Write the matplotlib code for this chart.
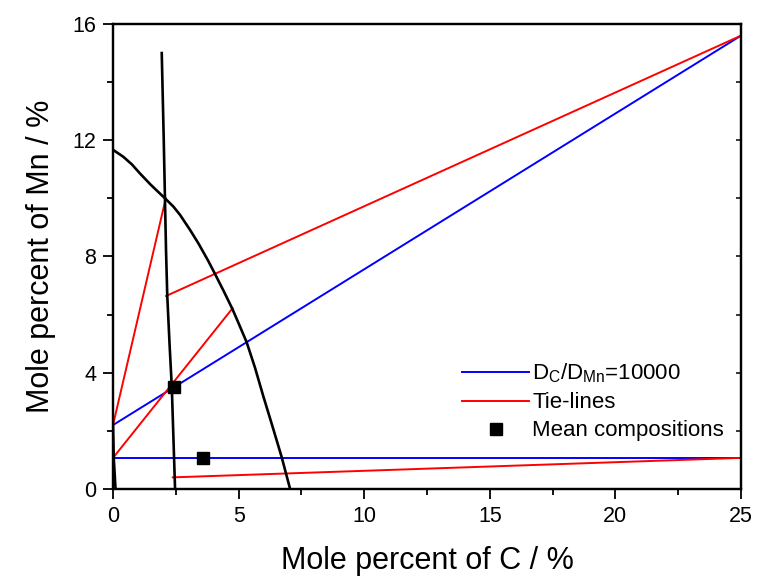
import matplotlib
matplotlib.use("Agg")
import matplotlib.pyplot as plt
from matplotlib.ticker import MultipleLocator

plt.rcParams['font.family'] = ['Liberation Sans', 'DejaVu Sans']
plt.rcParams['mathtext.fontset'] = 'custom'
plt.rcParams['mathtext.rm'] = 'Liberation Sans'

# Phase boundary (gamma / cementite-side curve)
boundary_x = [0.0, 0.41, 0.75, 1.07, 1.5, 2.07, 2.4, 2.67, 3.07, 3.4, 3.79, 4.06, 4.4,
              4.75, 5.0, 5.32, 5.65, 5.98, 6.35, 6.71, 7.05]
boundary_y = [11.67, 11.43, 11.17, 10.86, 10.47, 10.0, 9.72, 9.43, 8.91, 8.45, 7.85, 7.40, 6.82,
              6.20, 5.70, 5.05, 4.18, 3.20, 2.15, 1.11, 0.0]

# Near-vertical boundary
vert_x = [1.94, 2.02, 2.11, 2.16, 2.25, 2.34, 2.47]
vert_y = [15.0, 12.0, 8.22, 6.64, 5.0, 3.51, 0.0]

# Boundary hugging the Mn axis
axis_x = [0.0, 0.03, 0.1]
axis_y = [2.2, 1.07, 0.0]

# Diffusion paths with D_C/D_Mn = 10000
blue1_x = [0.0, 25.0]
blue1_y = [2.2, 15.6]
blue2_x = [0.0, 25.0]
blue2_y = [1.07, 1.07]

# Tie-lines (start, end)
tie_lines = [
    ([0.0, 2.1], [2.2, 10.0]),
    ([0.0, 4.76], [1.07, 6.22]),
    ([2.11, 25.0], [6.64, 15.6]),
    ([2.38, 25.0], [0.40, 1.07]),
]

# Mean compositions
mean_x = [2.44, 3.6]
mean_y = [3.5, 1.06]

fig = plt.figure(figsize=(7.59, 5.78), dpi=100)
ax = fig.add_axes([0.1489, 0.154, 0.8274, 0.8045])

ax.plot(boundary_x, boundary_y, color='black', lw=1.9, zorder=3, solid_joinstyle='round')
ax.plot(vert_x, vert_y, color='black', lw=1.9, zorder=3)
ax.plot(axis_x, axis_y, color='black', lw=1.9, zorder=3)

ax.plot(blue1_x, blue1_y, color='blue', lw=1.4, label=r'D$_\mathregular{C}$/D$_\mathregular{Mn}$=10000', zorder=2)
ax.plot(blue2_x, blue2_y, color='blue', lw=1.4, zorder=2)

for i, (tx, ty) in enumerate(tie_lines):
    ax.plot(tx, ty, color='red', lw=1.4, label='Tie-lines' if i == 0 else None, zorder=2)

ax.plot(mean_x, mean_y, 's', color='black', ms=8, ls='none', label='Mean compositions', zorder=4)

ax.set_xlim(0, 25)
ax.set_ylim(0, 16)
ax.xaxis.set_major_locator(MultipleLocator(5))
ax.xaxis.set_minor_locator(MultipleLocator(2.5))
ax.yaxis.set_major_locator(MultipleLocator(4))
ax.yaxis.set_minor_locator(MultipleLocator(2))

ax.tick_params(axis='both', which='major', direction='out', length=7, width=1.3, labelsize=15.5,
               top=False, right=False, pad=5)
ax.tick_params(axis='both', which='minor', direction='out', length=4, width=1.3,
               top=False, right=False)

# Inward ticks on the right spine
axr = ax.twinx()
axr.set_ylim(0, 16)
axr.yaxis.set_major_locator(MultipleLocator(2))
axr.tick_params(axis='y', direction='in', length=3.5, width=1.1, labelright=False)

for a in (ax, axr):
    for s in a.spines.values():
        s.set_linewidth(1.6)

ax.set_xlabel('Mole percent of C / %', fontsize=22, labelpad=14)
ax.set_ylabel('Mole percent of Mn / %', fontsize=22, labelpad=12)

leg = ax.legend(loc='upper left', bbox_to_anchor=(0.556, 0.274), frameon=False, fontsize=16,
                handlelength=3.0, handletextpad=0.15, labelspacing=0.32,
                borderpad=0, borderaxespad=0)

fig.savefig('out.png', dpi=100)
